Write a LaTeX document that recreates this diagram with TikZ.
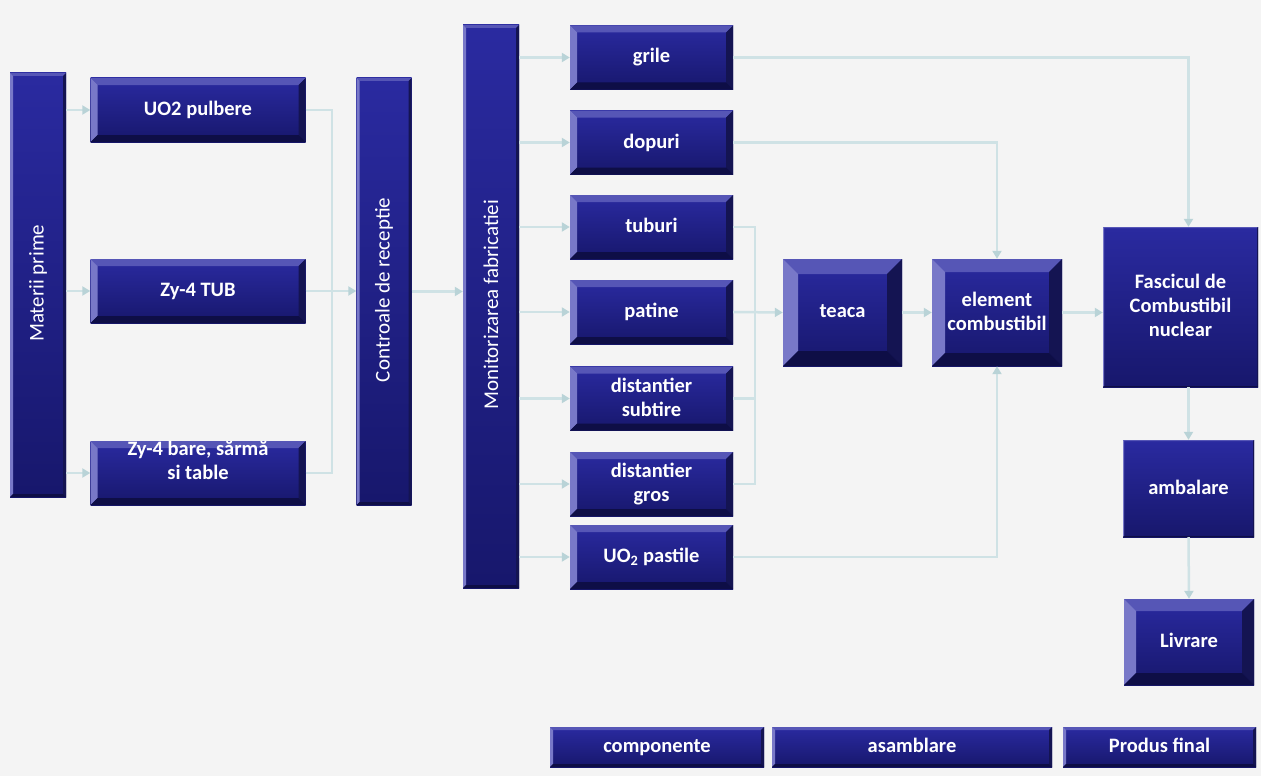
\documentclass[tikz,border=0pt]{standalone}
\usepackage{fontspec}
\setmainfont{Carlito}
\usetikzlibrary{arrows.meta,calc}
\definecolor{fondC}{HTML}{F4F4F4}
\definecolor{blokTop}{HTML}{2A2AA0}
\definecolor{blokBot}{HTML}{17176C}
\definecolor{bvTop}{HTML}{5656B6}
\definecolor{bvLeft}{HTML}{7878C8}
\definecolor{bvRight}{HTML}{141452}
\definecolor{bvBot}{HTML}{0E0E46}
\definecolor{lnkC}{HTML}{CFE2E5}
\definecolor{tipC}{HTML}{B9D3D7}
% bevelled edges of a box
\newcommand{\bevel}[1]{%
  \path (path picture bounding box.north west) coordinate (bNW)
        (path picture bounding box.north east) coordinate (bNE)
        (path picture bounding box.south east) coordinate (bSE)
        (path picture bounding box.south west) coordinate (bSW);
  \path ($(bNW)+(#1pt,-#1pt)$) coordinate (iNW) ($(bNE)+(-#1pt,-#1pt)$) coordinate (iNE)
        ($(bSE)+(-#1pt,#1pt)$) coordinate (iSE) ($(bSW)+(#1pt,#1pt)$) coordinate (iSW);
  \fill[bvTop] (bNW) -- (bNE) -- (iNE) -- (iNW) -- cycle;
  \fill[bvLeft] (bNW) -- (iNW) -- (iSW) -- (bSW) -- cycle;
  \fill[bvRight] (bNE) -- (bSE) -- (iSE) -- (iNE) -- cycle;
  \fill[bvBot] (bSW) -- (bSE) -- (iSE) -- (iSW) -- cycle;
}
\tikzset{
  blok/.style n args={3}{minimum width=#1, minimum height=#2, inner sep=0pt,
    top color=blokTop, bottom color=blokBot, text=white, align=center,
    font=\fontsize{20.5}{24}\selectfont\bfseries, path picture={\bevel{#3}},
    execute at begin node={\vphantom{Ay}}, execute at end node={\vphantom{Ay}}},
  bara/.style n args={2}{blok={#1}{#2}{3}, font=\fontsize{21}{24}\selectfont},
  lbl/.style={text=white, align=center, font=\fontsize{20.5}{24}\selectfont\bfseries},
  lnk/.style={draw=lnkC, line width=2.5pt},
  arr/.style={lnk, -{Triangle[length=8pt,width=9pt,fill=tipC,color=tipC]}},
}
\begin{document}
\begin{tikzpicture}[x=1pt,y=-1pt]
  \useasboundingbox[fill=fondC] (0,0) rectangle (1261,776);
  % materii prime si receptie
  \node[bara={56pt}{424pt}] (mp) at (38,285) {\rotatebox{90}{Materii prime}};
  \node[blok={215pt}{64pt}{7}] (uo2) at (198,110) {UO2 pulbere};
  \node[blok={215pt}{64pt}{7}] (tub) at (198,291) {Zy-4 TUB};
  \node[blok={215pt}{64pt}{7}] (bare) at (198,473) {};
  \node[lbl] (bareT) at (198,460) {Zy-4 bare, sărmă\\si table};
  \node[bara={55pt}{427pt}] (cr) at (384,291.5) {\rotatebox{90}{Controale de receptie}};
  \node[bara={56pt}{563pt}] (mf) at (491,306.5) {\rotatebox{90}{Monitorizarea fabricatiei}};
  % componente
  \node[blok={163pt}{64pt}{7}] (gri) at (651.5,57.5) {grile};
  \node[blok={163pt}{64pt}{7}] (dop) at (651.5,142.5) {dopuri};
  \node[blok={163pt}{64pt}{7}] (tbr) at (651.5,227) {tuburi};
  \node[blok={163pt}{64pt}{7}] (pat) at (651.5,312) {patine};
  \node[blok={163pt}{64pt}{7}] (dsu) at (651.5,398.5) {distantier\\subtire};
  \node[blok={163pt}{64pt}{7}] (dgr) at (651.5,484) {distantier\\gros};
  \node[blok={163pt}{64pt}{7}] (pst) at (651.5,557) {UO\textsubscript{2} pastile};
  % asamblare
  \node[blok={119pt}{107pt}{15}] (tea) at (842.5,312.5) {teaca};
  \node[blok={130pt}{107pt}{13}] (ele) at (997,312.5) {element\\combustibil};
  \node[blok={155pt}{160pt}{1}] (fas) at (1180.5,307) {Fascicul de\\Combustibil\\nuclear};
  \node[blok={131pt}{97pt}{1}] (amb) at (1188.5,488.5) {ambalare};
  \node[blok={130pt}{86pt}{12}] (liv) at (1189,642) {Livrare};
  % etape
  \node[blok={214pt}{40pt}{3}] (etC) at (657,747) {componente};
  \node[blok={280pt}{40pt}{3}] (etA) at (912,747) {asamblare};
  \node[blok={193pt}{40pt}{3}] (etP) at (1159.5,747) {Produs final};
  \coordinate (jr) at (332,292);
  \coordinate (jt) at (755,312);
  % legaturi
  \draw[arr] (mp.east |- uo2.west) -- (uo2.west);
  \draw[arr] (mp.east |- tub.west) -- (tub.west);
  \draw[arr] (mp.east |- bare.west) -- (bare.west);
  \draw[lnk] (uo2.east) -| (jr);
  \draw[lnk] (bare.east) -| (jr);
  \draw[arr] (tub.east) -- (cr.west |- tub.east);
  \draw[arr] (cr.east) -- (mf.west |- cr.east);
  \foreach \c in {gri,dop,tbr,pat,dsu,dgr,pst}
    \draw[arr] (mf.east |- \c.west) -- (\c.west);
  \draw[lnk] (tbr.east) -| (jt);
  \draw[lnk] (dsu.east) -| (jt);
  \draw[lnk] (dgr.east) -| (jt);
  \draw[arr] (pat.east) -- (tea.west);
  \draw[arr] (tea.east) -- (ele.west);
  \draw[arr] (ele.east) -- (fas.west |- ele.east);
  \draw[arr] (gri.east) -| (fas.north -| amb);
  \draw[arr] (dop.east) -| (ele.north);
  \draw[arr] (pst.east) -| (ele.south);
  \draw[arr] (fas.south -| amb) -- (amb.north);
  \draw[arr] (amb.south) -- (liv.north);
\end{tikzpicture}
\end{document}
